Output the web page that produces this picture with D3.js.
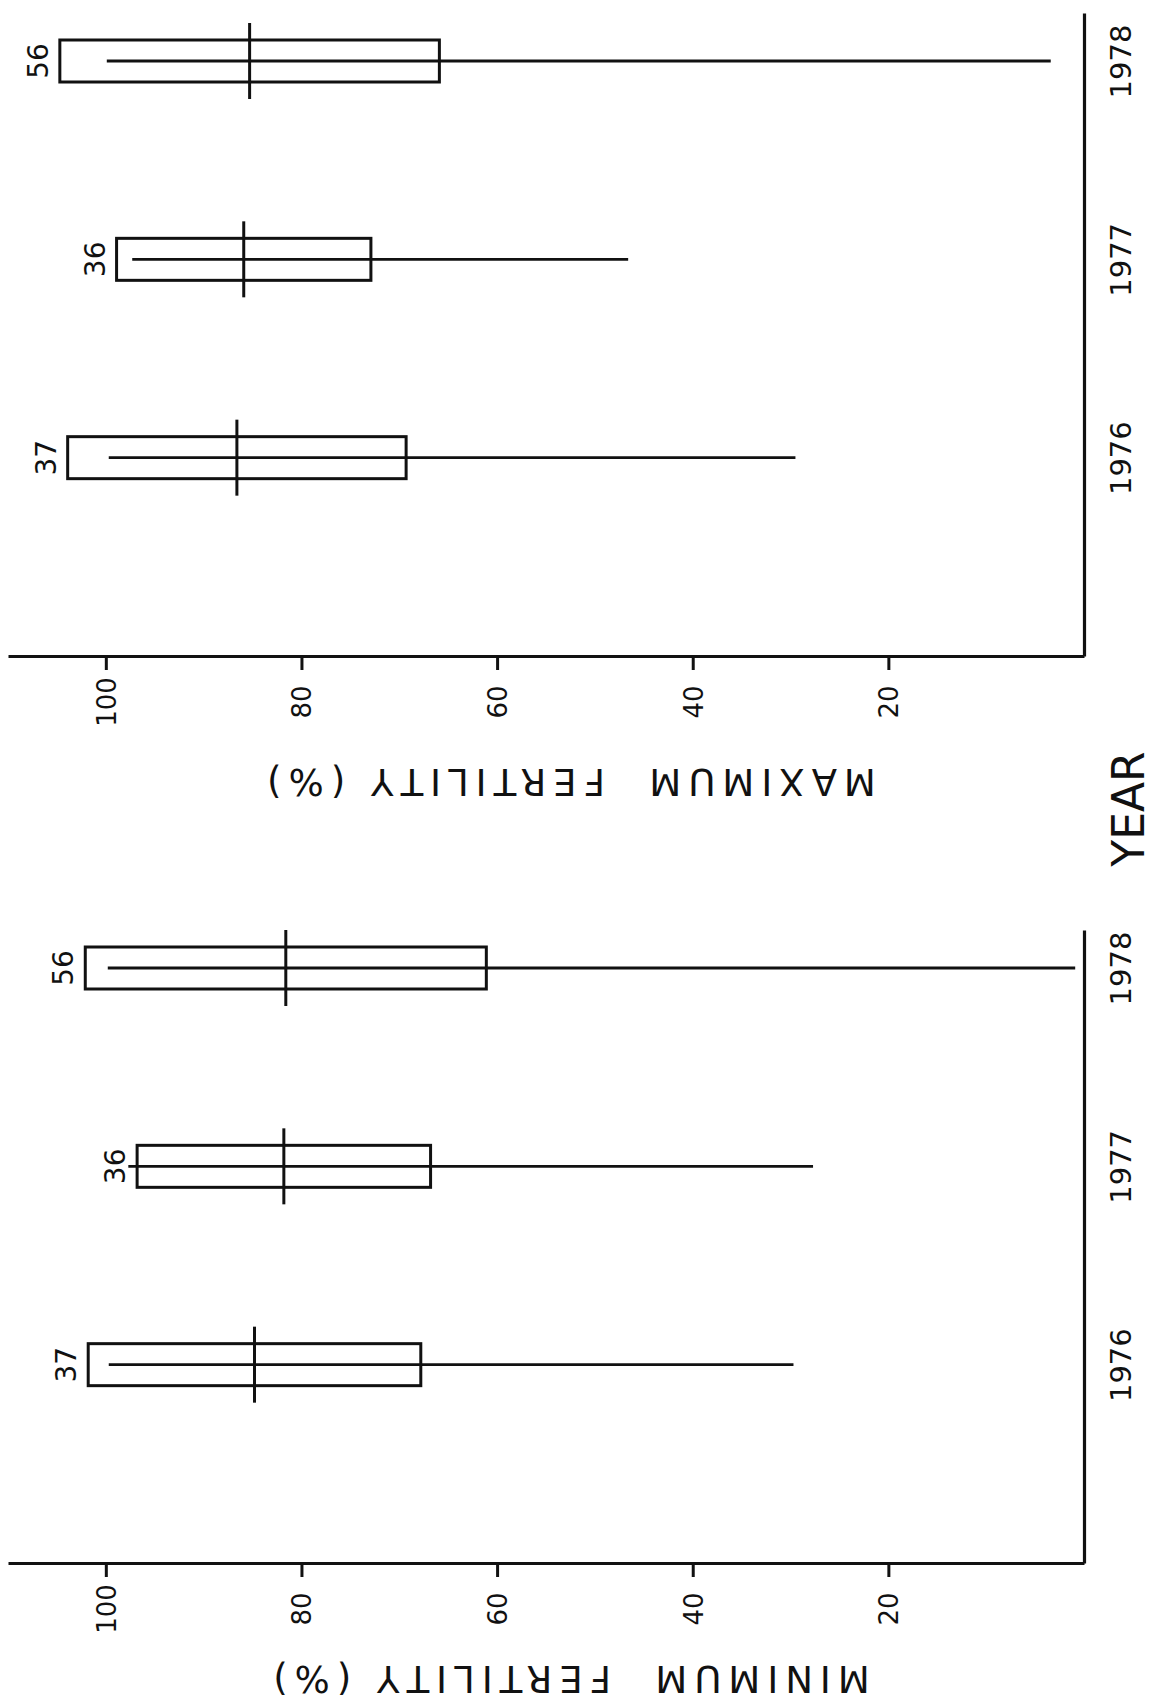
<!DOCTYPE html>
<html>
<head>
<meta charset="utf-8">
<script src="https://cdn.jsdelivr.net/npm/d3@7"></script>
<style>
  body { margin: 0; background: #fff; }
  svg { display: block; }
  .axis path, .axis line { stroke: #111; }
  .axis text { fill: #111; }
</style>
</head>
<body>
<script>
// year categories (same for both panels)
const years = [1976, 1977, 1978];
const counts = [37, 36, 56];

// maximum fertility (%): mean, standard deviation, range
const maxMean = [86.6, 85.9, 85.3];
const maxSd   = [17.3, 13.0, 19.4];
const maxLow  = [29.5, 46.6, 3.4];
const maxHigh = [99.7, 97.3, 99.9];

// minimum fertility (%)
const minMean = [84.8, 81.8, 81.6];
const minSd   = [17.0, 15.0, 20.5];
const minLow  = [29.7, 27.7, 0.9];
const minHigh = [99.7, 97.7, 99.8];

const pctTicks = [100, 80, 60, 40, 20];

const W = 1156, H = 1706;
const svg = d3.select("body").append("svg")
  .attr("width", W)
  .attr("height", H);

// the figure is printed sideways: fertility runs left->right (100 at left),
// years run bottom->top along the right-hand axis
function drawPanel(opts) {
  const { axisY, topY, mean, sd, low, high, title } = opts;

  const x = d3.scaleLinear().domain([110, 0]).range([8, 1084]);
  const y = d3.scaleLinear().domain([1975, 1978]).range([axisY, axisY - 595]);
  y.domain([1975, y.invert(topY)]).range([axisY, topY]);

  const rows = years.map((yr, i) => ({
    year: yr, n: counts[i], mean: mean[i], sd: sd[i], low: low[i], high: high[i]
  }));

  const g = svg.append("g");

  // fertility axis
  const xAxis = g.append("g")
    .attr("class", "axis")
    .attr("transform", "translate(0," + axisY + ")")
    .call(d3.axisBottom(x).tickValues(pctTicks).tickSize(14).tickSizeOuter(0));
  xAxis.select(".domain").attr("stroke-width", 3.2);
  xAxis.selectAll(".tick line").attr("stroke-width", 3);
  xAxis.selectAll(".tick text")
    .attr("x", 0).attr("y", 0).attr("dy", "0.36em")
    .attr("transform", "translate(0,46) rotate(-90)")
    .style("text-anchor", "middle")
    .style("font-family", "DejaVu Sans")
    .style("font-size", "26px");

  // year axis
  const yAxis = g.append("g")
    .attr("class", "axis")
    .attr("transform", "translate(" + x(0) + ",0)")
    .call(d3.axisRight(y).tickValues(years).tickFormat(d3.format("d"))
      .tickSize(0).tickSizeOuter(0));
  yAxis.select(".domain").attr("stroke-width", 3.2);
  yAxis.selectAll(".tick text")
    .attr("x", 0).attr("y", 0).attr("dy", "0.36em")
    .attr("transform", "translate(37,0) rotate(-90)")
    .style("text-anchor", "middle")
    .style("font-family", "DejaVu Sans")
    .style("font-size", "29px");

  const boxH = 42, tickH = 76;

  // range lines
  g.selectAll(".range")
    .data(rows)
    .enter().append("line")
    .attr("class", "range")
    .attr("x1", d => x(d.high))
    .attr("x2", d => x(d.low))
    .attr("y1", d => y(d.year))
    .attr("y2", d => y(d.year))
    .attr("stroke", "#111")
    .attr("stroke-width", 2.8);

  // mean +/- sd boxes
  g.selectAll(".box")
    .data(rows)
    .enter().append("rect")
    .attr("class", "box")
    .attr("x", d => x(d.mean + d.sd))
    .attr("y", d => y(d.year) - boxH / 2)
    .attr("width", d => x(d.mean - d.sd) - x(d.mean + d.sd))
    .attr("height", boxH)
    .attr("fill", "none")
    .attr("stroke", "#111")
    .attr("stroke-width", 3);

  // mean marks
  g.selectAll(".mean")
    .data(rows)
    .enter().append("line")
    .attr("class", "mean")
    .attr("x1", d => x(d.mean))
    .attr("x2", d => x(d.mean))
    .attr("y1", d => y(d.year) - tickH / 2)
    .attr("y2", d => y(d.year) + tickH / 2)
    .attr("stroke", "#111")
    .attr("stroke-width", 3);

  // sample sizes
  g.selectAll(".count")
    .data(rows)
    .enter().append("text")
    .attr("class", "count")
    .attr("transform", d => "translate(" + (x(d.mean + d.sd) - 22) + "," + y(d.year) + ") rotate(-90)")
    .attr("dy", "0.36em")
    .style("text-anchor", "middle")
    .style("font-family", "DejaVu Sans")
    .style("font-size", "28px")
    .attr("fill", "#111")
    .text(d => d.n);

  // axis title, upside down
  const tx = 568, ty = axisY + opts.titleGap;
  g.append("text")
    .attr("transform", "translate(" + tx + "," + ty + ") rotate(180)")
    .attr("dy", "0.36em")
    .style("text-anchor", "middle")
    .style("font-family", "DejaVu Sans")
    .style("font-size", "37px")
    .style("letter-spacing", "7px")
    .style("white-space", "pre")
    .attr("fill", "#111")
    .text(title);
}

drawPanel({
  axisY: 656, topY: 13, titleGap: 126,
  mean: maxMean, sd: maxSd, low: maxLow, high: maxHigh,
  title: "MAXIMUM  FERTILITY (%)"
});

drawPanel({
  axisY: 1563, topY: 930, titleGap: 116,
  mean: minMean, sd: minSd, low: minLow, high: minHigh,
  title: "MINIMUM  FERTILITY (%)"
});

// shared year title
svg.append("text")
  .attr("transform", "translate(1128,809) rotate(-90)")
  .attr("dy", "0.36em")
  .style("text-anchor", "middle")
  .style("font-family", "DejaVu Sans")
  .style("font-size", "44px")
  .attr("fill", "#111")
  .text("YEAR");
</script>
</body>
</html>
